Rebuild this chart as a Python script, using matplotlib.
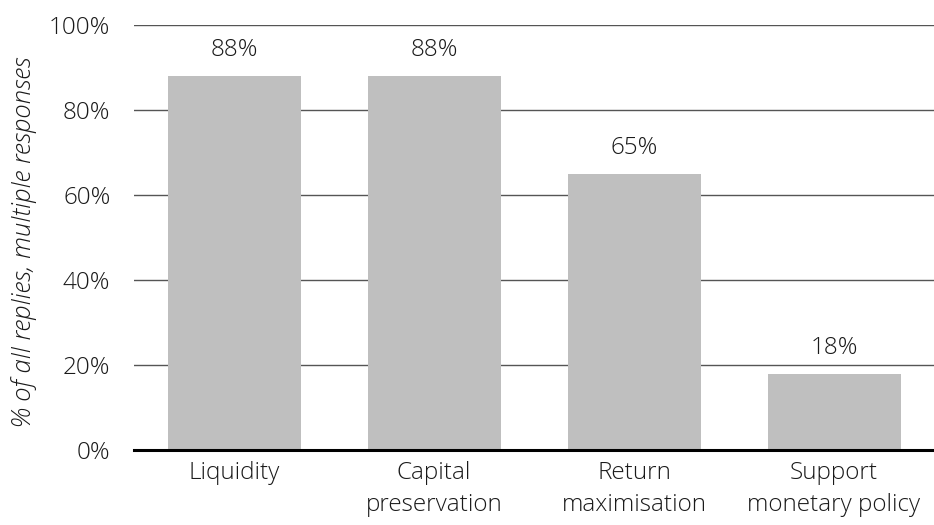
import matplotlib.pyplot as plt

# --- data ---
categories = ["Liquidity", "Capital\npreservation", "Return\nmaximisation", "Support\nmonetary policy"]
shares = [88, 88, 65, 18]
yticks = [0, 20, 40, 60, 80, 100]

plt.rcParams['font.family'] = ['Open Sans', 'DejaVu Sans']
plt.rcParams['font.weight'] = 300

fig = plt.figure(figsize=(9.34, 5.25), dpi=100)
ax = fig.add_axes([134 / 934, 75 / 525, 800 / 934, 425 / 525])

x = list(range(len(categories)))
ax.bar(x, shares, width=0.665, color='#bfbfbf', zorder=2)

for xi, v in zip(x, shares):
    ax.text(xi, v + 3.2, f"{v}%", ha='center', va='bottom', fontsize=17.5, color='#1a1a1a', weight=300)

ax.set_xlim(-0.5, 3.5)
ax.set_ylim(0, 100)
ax.set_yticks(yticks)
ax.set_yticklabels([f"{t}%" for t in yticks], fontsize=17.5, color='#1a1a1a', weight=300)
ax.set_xticks(x)
ax.set_xticklabels(categories, fontsize=17.5, color='#1a1a1a', linespacing=1.45, weight=300)
ax.tick_params(axis='y', length=0, pad=17)
ax.tick_params(axis='x', length=0, pad=8)

ax.yaxis.grid(True, color='#555555', linewidth=1, zorder=1)
for s in ['top', 'right', 'left']:
    ax.spines[s].set_visible(False)
ax.spines['bottom'].set_linewidth(2.2)
ax.spines['bottom'].set_color('black')
ax.spines['bottom'].set_zorder(3)

fig.text(24 / 934, 1 - 242 / 525, "% of all replies, multiple responses", rotation=90,
         ha='center', va='center', fontsize=18.5, style='italic', color='#1a1a1a', weight=300)

fig.savefig("out.png", dpi=100)
